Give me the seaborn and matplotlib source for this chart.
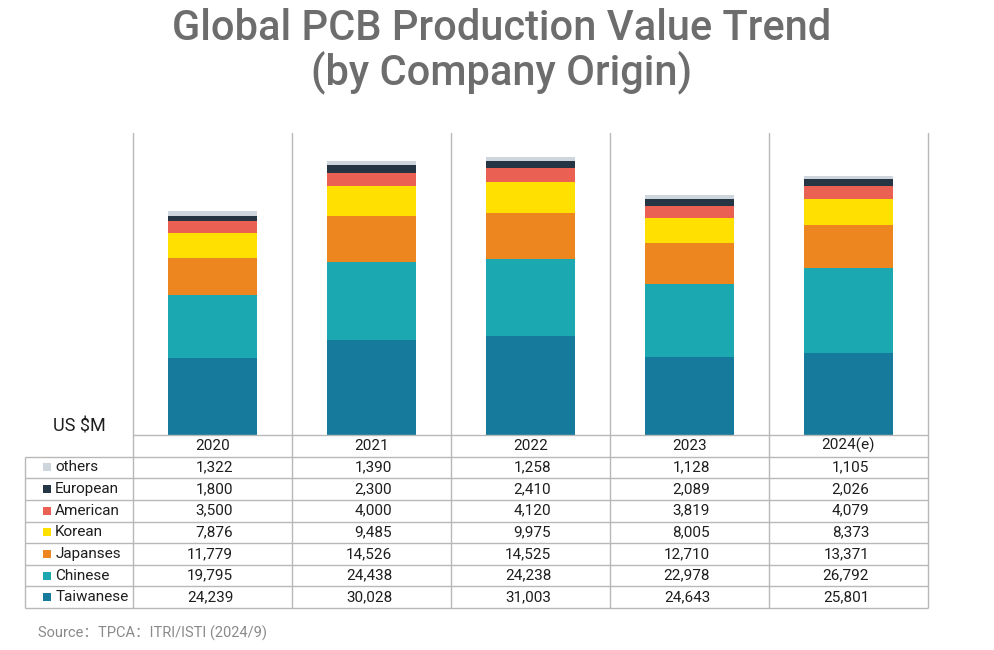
import numpy as np
import matplotlib
matplotlib.use("Agg")
import matplotlib.pyplot as plt
import seaborn as sns

years = ["2020", "2021", "2022", "2023", "2024(e)"]
# bottom to top of the stack
origins = ["Taiwanese", "Chinese", "Japanses", "Korean", "American", "European", "others"]
taiwanese = [24239, 30028, 31003, 24643, 25801]
chinese = [19795, 24438, 24238, 22978, 26792]
japanses = [11779, 14526, 14525, 12710, 13371]
korean = [7876, 9485, 9975, 8005, 8373]
american = [3500, 4000, 4120, 3819, 4079]
european = [1800, 2300, 2410, 2089, 2026]
others = [1322, 1390, 1258, 1128, 1105]
colors = ["#167a9c", "#1ba8b0", "#ee861f", "#ffe000", "#ea6153", "#253544", "#cfd5dd"]

sns.set_style("white")
plt.rcParams["font.family"] = ["Roboto", "Noto Sans CJK SC", "DejaVu Sans"]

series = [taiwanese, chinese, japanses, korean, american, european, others]
cum = np.cumsum(np.array(series), axis=0)

fig = plt.figure(figsize=(9.94, 6.5), dpi=100)
ax = fig.add_axes([133 / 994, 1 - 435 / 650, 795 / 994, 302 / 650])

# draw stacked bars as overlapping cumulative totals, top layer first
for i in range(len(origins) - 1, -1, -1):
    sns.barplot(x=years, y=cum[i], color=colors[i], saturation=1, width=0.56,
                linewidth=0, order=years, ax=ax)

grid_col = "#b8b8b8"
ax.set_xlim(-0.5, 4.5)
ax.set_ylim(0, 95000)
ax.set_xticks([])
ax.set_yticks([])
ax.set_xlabel("")
ax.set_ylabel("")
for s in ax.spines.values():
    s.set_visible(False)
for k in range(6):
    ax.axvline(k - 0.5, color=grid_col, lw=1, clip_on=False)

# data table under the bars
lab_w = 108 / 159
tax = fig.add_axes([25 / 994, 1 - 608 / 650, 903 / 994, 173 / 650])
tax.set_xlim(-0.5 - lab_w, 4.5)
tax.set_ylim(8, 0)
tax.axis("off")

tax.hlines(0, -0.5, 4.5, color=grid_col, lw=1, clip_on=False)
tax.hlines(np.arange(1, 9), -0.5 - lab_w, 4.5, color=grid_col, lw=1, clip_on=False)
tax.vlines(-0.5 - lab_w, 1, 8, color=grid_col, lw=1, clip_on=False)
tax.vlines(np.arange(6) - 0.5, 0, 8, color=grid_col, lw=1, clip_on=False)

txt_col = "#1e1e1e"
for j, y in enumerate(years):
    tax.text(j, 0.5, y, ha="center", va="center", fontsize=11, color=txt_col)

row_order = list(range(len(origins) - 1, -1, -1))
for r, i in enumerate(row_order):
    yc = r + 1.5
    tax.scatter([-0.5 - lab_w + 0.14], [yc], marker="s", s=40, color=colors[i],
                linewidths=0, clip_on=False)
    tax.text(-0.5 - lab_w + 0.19, yc, origins[i], ha="left", va="center",
             fontsize=11, color=txt_col)
    for j in range(len(years)):
        tax.text(j + 0.13, yc, f"{series[i][j]:,}", ha="right", va="center",
                 fontsize=11, color=txt_col)

tax.text(-0.5 - lab_w / 2, -0.37, "US $M", ha="center", va="center",
         fontsize=13, color=txt_col, clip_on=False)

fig.text(0.505, 1 - 8 / 650, "Global PCB Production Value Trend\n(by Company Origin)",
         ha="center", va="top", fontsize=30, fontweight="medium", color="#6d6d6d",
         linespacing=1.05)
fig.text(38 / 994, 1 - 633 / 650, "Source：TPCA：ITRI/ISTI (2024/9)", ha="left",
         va="center", fontsize=10.5, color="#8a8a8a")

fig.savefig("out.png", dpi=100)
